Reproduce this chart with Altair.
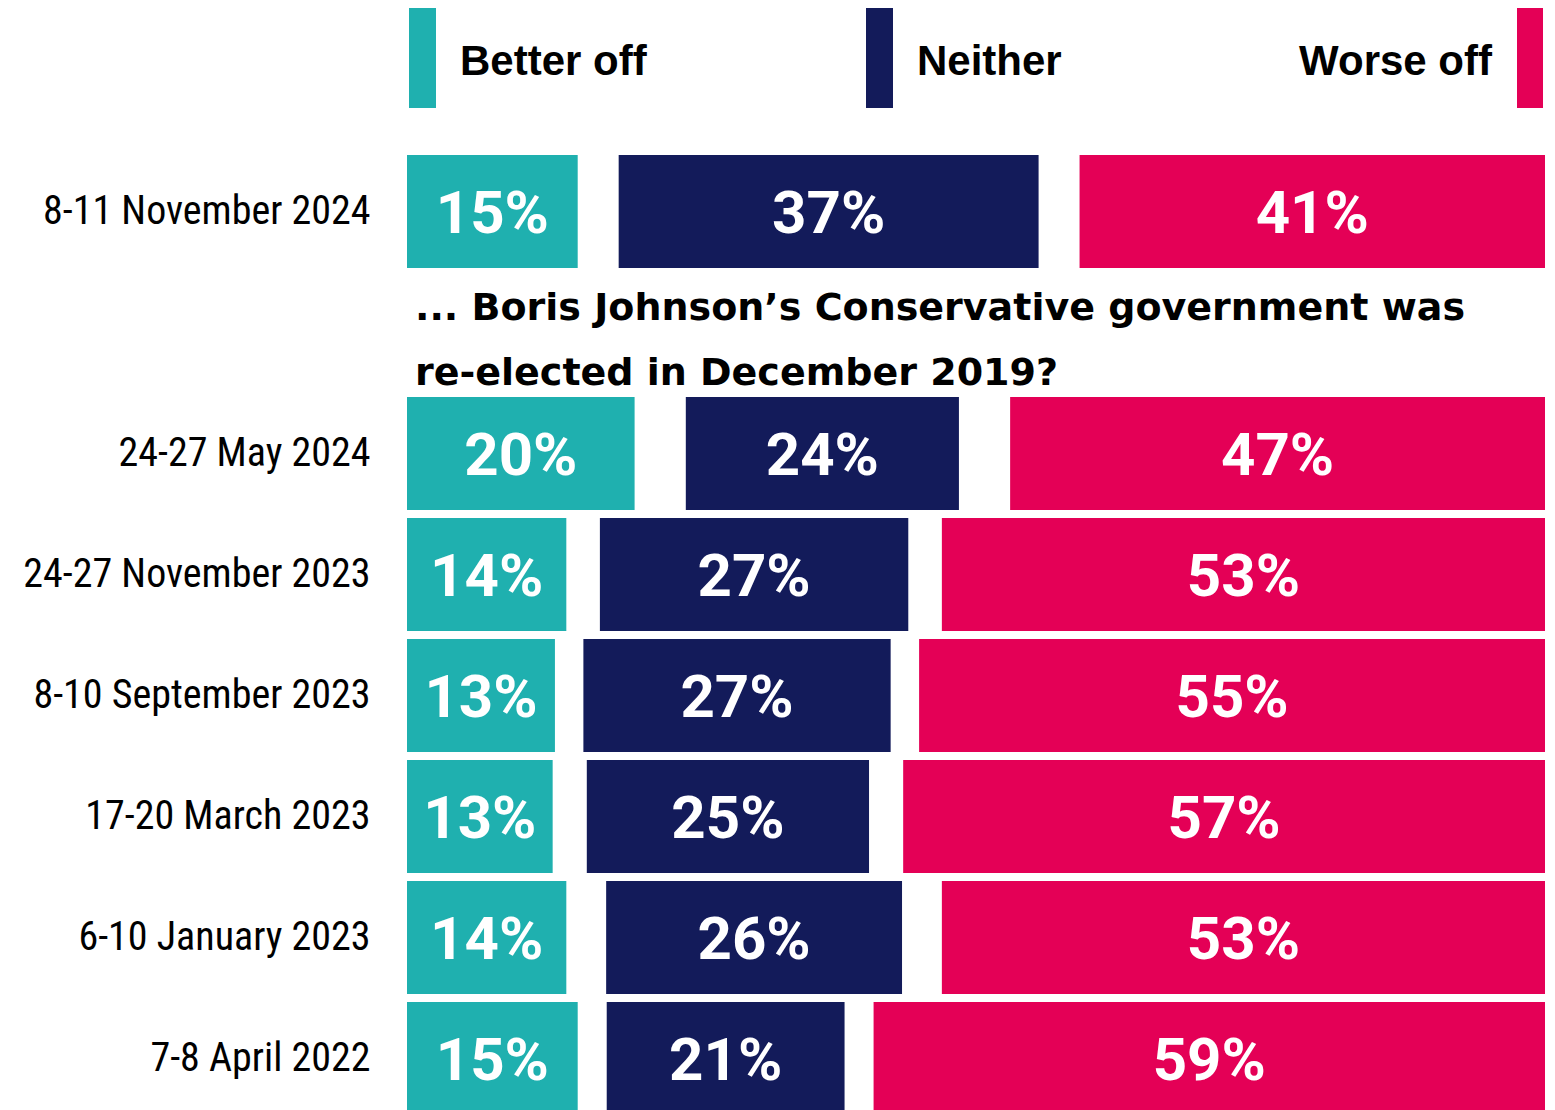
import altair as alt
import pandas as pd

# ---- data ----
dates = [
    "8-11 November 2024",
    "24-27 May 2024",
    "24-27 November 2023",
    "8-10 September 2023",
    "17-20 March 2023",
    "6-10 January 2023",
    "7-8 April 2022",
]
better = [15.0, 20.0, 14.0, 13.0, 12.8, 14.0, 15.0]
neither = [36.9, 24.0, 27.1, 27.0, 24.8, 26.0, 20.9]
worse = [40.9, 47.0, 53.0, 55.0, 56.4, 53.0, 59.0]
better_lbl = [15, 20, 14, 13, 13, 14, 15]
neither_lbl = [37, 24, 27, 27, 25, 26, 21]
worse_lbl = [41, 47, 53, 55, 57, 53, 59]

categories = ["Better off", "Neither", "Worse off"]
colors = ["#1fb0af", "#131b5a", "#e40056"]

subtitle = ["... Boris Johnson\u2019s Conservative government was",
            "re-elected in December 2019?"]

GAP_KEY = "__gap__"
y_domain = [dates[0], GAP_KEY] + dates[1:]

# ---- build segment table ----
rows = []
for d, b, n, w, bl, nl, wl in zip(dates, better, neither, worse,
                                   better_lbl, neither_lbl, worse_lbl):
    dk_half = (100 - b - n - w) / 2
    rows.append(dict(date=d, cat="Better off", x0=0, x1=b, lbl=f"{bl}%"))
    rows.append(dict(date=d, cat="Neither", x0=b + dk_half, x1=b + dk_half + n, lbl=f"{nl}%"))
    rows.append(dict(date=d, cat="Worse off", x0=100 - w, x1=100, lbl=f"{wl}%"))
df = pd.DataFrame(rows)

LABEL_FONT = "Liberation Sans Narrow, Roboto Condensed, DejaVu Sans Condensed, Roboto, sans-serif"
BOLD_FONT = "Roboto, Liberation Sans, sans-serif"
SUB_FONT = "DejaVu Sans, Open Sans, sans-serif"

W = 1138
H_VIEW = 959      # visible part (page is 1110 tall)
H_BANDS = 968     # full band range; last row runs past the bottom edge

xscale = alt.Scale(domain=[0, 100], nice=False, zero=False)
yscale = alt.Scale(domain=y_domain, range=[0, H_BANDS],
                   paddingInner=0.066, paddingOuter=0.033)
cscale = alt.Scale(domain=categories, range=colors)

base = alt.Chart(df)

bars = base.mark_rect().encode(
    x=alt.X("x0:Q", scale=xscale, axis=None),
    x2="x1:Q",
    y=alt.Y("date:N", scale=yscale, sort=y_domain, title=None,
            axis=alt.Axis(domain=False, ticks=False, labelFontSize=40,
                          labelFont=LABEL_FONT, labelColor="#000000",
                          labelPadding=37, labelFontWeight="normal",
                          labelLimit=0,
                          labelExpr=f"datum.value == '{GAP_KEY}' ? '' : datum.value")),
    color=alt.Color("cat:N", scale=cscale, legend=None),
)

labels = base.transform_calculate(
    xm="(datum.x0 + datum.x1) / 2"
).mark_text(
    font=BOLD_FONT, fontWeight="bold", fontSize=60, color="white",
    align="center", baseline="middle", dy=3,
).encode(
    x=alt.X("xm:Q", scale=xscale),
    y=alt.Y("date:N", scale=yscale, sort=y_domain),
    text="lbl:N",
)

one = pd.DataFrame({"t": [0]})

sub = alt.Chart(one).mark_text(
    text=subtitle, font=SUB_FONT, fontWeight="bold", fontSize=38,
    color="#000000", align="left", baseline="alphabetic", lineHeight=65,
).encode(x=alt.value(8), y=alt.value(169))

# ---- custom legend above the plot ----
legend_layers = []
legend_items = [
    # (bar x0, bar x1, text x, text align)
    (2, 29, 53, "left"),
    (459, 486, 510, "left"),
    (1110, 1136, 1085, "right"),
]
for cat, (bx0, bx1, tx, al), col in zip(categories, legend_items, colors):
    legend_layers.append(
        alt.Chart(one).mark_rect(color=col).encode(
            x=alt.value(bx0), x2=alt.value(bx1),
            y=alt.value(-143), y2=alt.value(-43))
    )
    legend_layers.append(
        alt.Chart(one).mark_text(
            text=cat, font="Liberation Sans, Arial, sans-serif", fontWeight="bold",
            fontSize=42, color="#000000", align=al, baseline="alphabetic",
        ).encode(x=alt.value(tx), y=alt.value(-76))
    )

chart = alt.layer(bars, labels, sub, *legend_layers).properties(
    width=W, height=H_VIEW,
    autosize=alt.AutoSizeParams(type="none"),
    padding={"left": 399, "top": 143, "right": 0, "bottom": 0},
    background="white",
).configure_view(stroke=None)

chart.save("out.html", embed_options={"renderer": "svg", "actions": False})
